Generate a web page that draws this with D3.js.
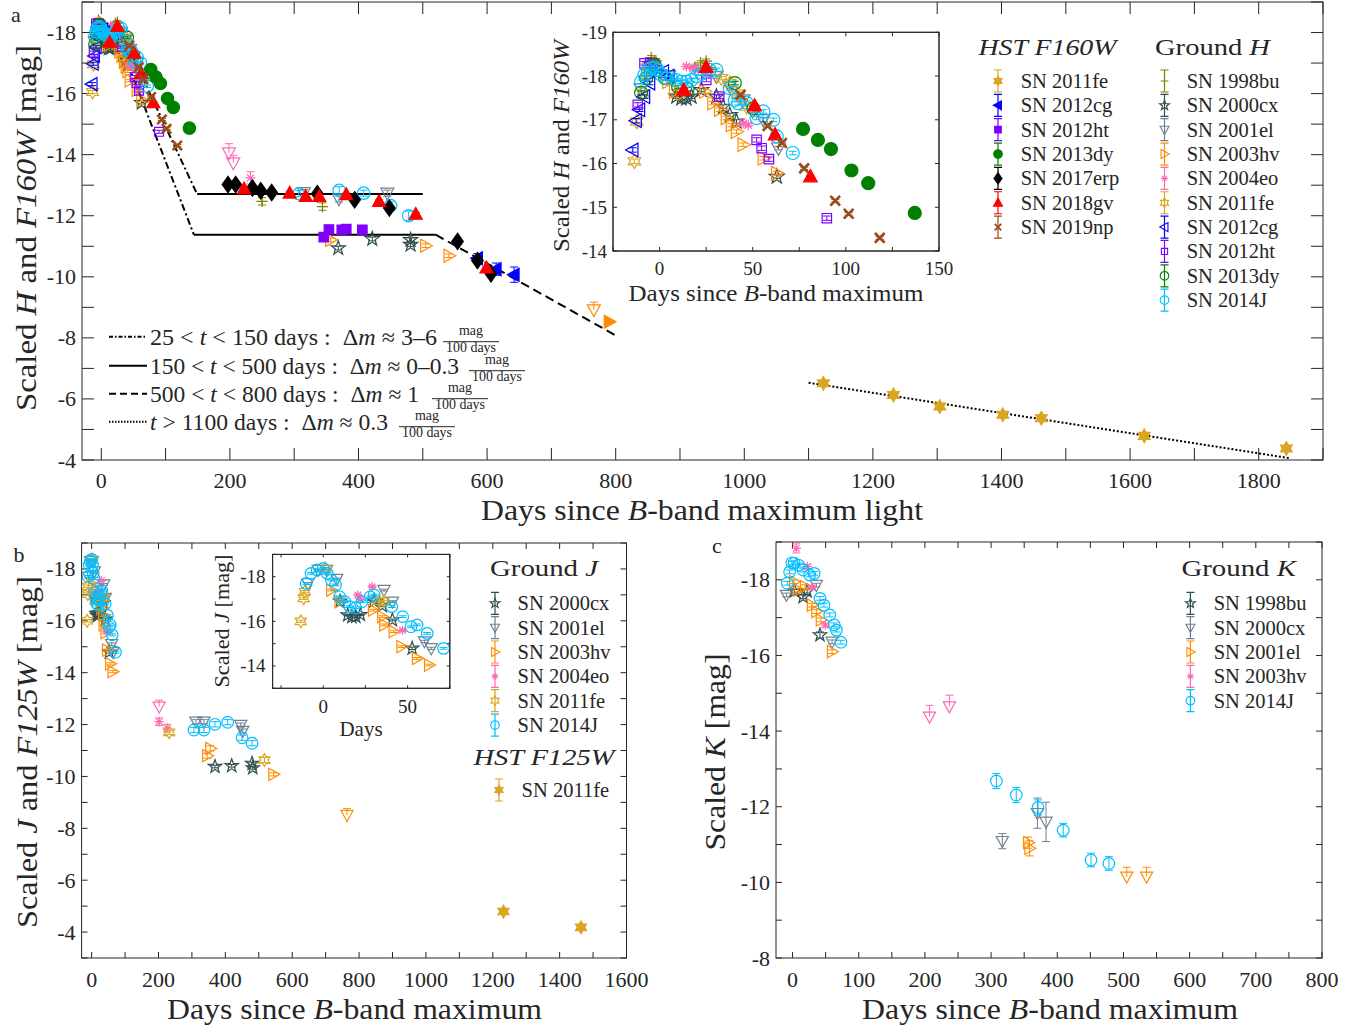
<!DOCTYPE html>
<html><head><meta charset="utf-8">
<script src="https://cdn.jsdelivr.net/npm/d3@7"></script>
<style>
body{margin:0;background:#fff}
svg{display:block}
text{font-family:"Liberation Serif","Times New Roman",serif;fill:#262626}
</style>
</head><body>
<svg id="chart" width="1364" height="1030"></svg>
<script>
// ===================== DATA (day, mag, error) =====================
// ---- Panel a: H band / HST F160W ----
const fe11H_hst = [[1123,-6.51,0.05],[1232,-6.13,0.05],[1304,-5.75,0.06],[1402,-5.48,0.06],[1462,-5.37,0.1],[1622,-4.79,0.08],[1843,-4.38,0.08]];
const cg12H_hst = [[585,-10.61,0.15],[614,-10.25,0.2],[642,-10.07,0.25]];
const ht12H_hst = [[346,-11.30,0.05],[354,-11.55,0.05],[374,-11.54,0.05],[381,-11.56,0.05],[406,-11.54,0.05]];
const dy13H_hst = [[77,-16.79,0.03],[85,-16.54,0.03],[92,-16.33,0.03],[103,-15.84,0.03],[112,-15.55,0.03],[137,-14.87,0.03]];
const erp17H_hst = [[197,-13.02,0.05],[209,-13.02,0.05],[235,-12.91,0.05],[248,-12.82,0.05],[265,-12.76,0.05],[336,-12.72,0.05],[394,-12.52,0.05],[448,-12.25,0.05],[554,-11.16,0.05],[585,-10.53,0.05],[606,-10.10,0.05]];
const gv18H_hst = [[13,-17.68,0.03],[25,-18.2,0.03],[51,-17.32,0.03],[62,-16.66,0.03],[81,-15.70,0.03],[222,-12.88,0.05],[293,-12.74,0.05],[318,-12.63,0.05],[339,-12.63,0.05],[381,-12.69,0.05],[432,-12.47,0.05],[489,-12.05,0.05],[599,-10.29,0.05]];
const np19H_hst = [[43.5,-17.57,0.03],[58,-16.86,0.03],[65.7,-16.47,0.03],[77.6,-15.89,0.03],[94.3,-15.15,0.03],[101.5,-14.85,0.03],[118.2,-14.30,0.03]];
const hv03H_hst = [[790,-8.53,0.05]];

const bu98H = [[-8,-17.95,0.05],[-6,-18.3,0.05],[-4.5,-18.42,0.05],[-2,-18.35,0.05],[19,-18.2,0.05],[22,-18.3,0.05],[25,-18.34,0.05],[28,-18.15,0.05],[250,-12.47,0.12],[344,-12.3,0.12]];
const cx00H = [[-5,-18.1,0.04],[9,-17.53,0.04],[11.7,-17.49,0.04],[14.4,-17.49,0.04],[17.1,-17.53,0.04],[22.4,-17.68,0.04],[30.5,-17.53,0.04],[34.1,-17.3,0.04],[37.7,-17.11,0.04],[41.3,-16.96,0.04],[62.9,-15.70,0.04],[368.5,-10.94,0.06],[421.4,-11.24,0.06],[481,-11.21,0.06],[481,-11.05,0.06]];
const el01H = [[-10,-17.7,0.04],[-3,-18.2,0.04],[5,-18.0,0.04],[30.5,-17.99,0.04],[37.7,-17.76,0.04],[44.9,-17.45,0.04],[50,-17.2,0.04],[55.7,-17.0,0.04],[63.8,-16.35,0.04],[315,-12.76,0.1],[369.6,-12.55,0.1],[444.8,-12.74,0.1]];
const hv03H = [[4.5,-17.87,0.04],[8.1,-17.65,0.04],[12,-17.6,0.04],[24.2,-17.65,0.04],[28.7,-17.38,0.04],[32.3,-17.23,0.04],[35.9,-17.04,0.04],[38.6,-16.88,0.04],[41.3,-16.73,0.04],[44.9,-16.43,0.04],[55.7,-16.12,0.04],[62.9,-15.78,0.04],[356.6,-11.21,0.06],[504.4,-11.02,0.06],[540.6,-10.69,0.06]];
const hv03H_lim = [[766,-8.92,0.25]];
const eo04H = [[14.4,-18.22,0.04],[18,-18.18,0.04],[20.7,-18.14,0.04],[25.1,-18.03,0.04],[44.9,-16.92,0.04],[47.6,-16.88,0.04],[232,-13.24,0.2]];
const eo04H_lim = [[198.5,-14.06,0.3],[205.3,-13.73,0.25]];
const fe11H = [[-13.5,-16.05,0.05],[-12.2,-16.96,0.05],[-9,-17.6,0.04],[-6,-18.2,0.04],[-3,-18.3,0.04],[33.2,-17.95,0.04],[37.7,-17.84,0.04],[42,-17.6,0.04],[46.7,-17.3,0.04]];
const cg12H = [[-14.4,-16.31,0.05],[-12.6,-16.98,0.05],[-10.8,-17.23,0.04],[-8.1,-17.53,0.04],[-5.4,-17.84,0.04],[-2,-18.1,0.04],[2,-18.1,0.04],[5,-18.0,0.04]];
const ht12H = [[-11.7,-17.34,0.05],[-8.1,-18.29,0.04],[-5,-18.3,0.04],[-3.6,-18.29,0.04],[25.1,-17.91,0.04],[32,-17.53,0.04],[52.1,-16.54,0.05],[54.8,-16.35,0.05],[58.7,-16.1,0.05],[89.8,-14.75,0.05]];
const dy13H = [[-9.9,-17.62,0.04],[-7.2,-17.95,0.04],[-2.7,-18.25,0.04],[3,-17.95,0.04],[10,-17.75,0.04],[15,-17.7,0.04],[40.4,-17.84,0.04],[50.3,-17.26,0.04]];
const J14H = [[-9.9,-17.87,0.04],[-8.1,-18.03,0.04],[-6.3,-18.14,0.04],[-4.5,-18.18,0.04],[-2.7,-18.18,0.04],[-0.9,-18.14,0.04],[0.9,-18.03,0.04],[3.6,-17.95,0.04],[6.3,-17.95,0.04],[9,-17.91,0.04],[11.7,-17.87,0.04],[14.4,-17.87,0.04],[17.1,-17.91,0.04],[19.8,-17.99,0.04],[22.4,-18.05,0.04],[26.9,-18.14,0.04],[30.5,-18.14,0.04],[37.7,-17.72,0.04],[40.4,-17.45,0.04],[42.2,-17.38,0.04],[46.7,-17.39,0.04],[52.1,-17.04,0.04],[55.7,-17.19,0.04],[61.1,-17.0,0.04],[62.9,-16.62,0.04],[71.5,-16.24,0.04],[307,-12.72,0.1],[370,-12.83,0.12],[408,-12.74,0.1],[450,-12.33,0.12],[478,-12.0,0.15]];

// model lines panel a
const lineEarlyBright = [[24,-18.32],[149,-12.71]];
const lineEarlyFaint = [[24.8,-17.88],[144,-11.38]];
const linePlateauBright = [[149,-12.71],[500,-12.71]];
const linePlateauFaint = [[144,-11.38],[520,-11.38]];
const lineLate = [[520,-11.38],[800,-8.08]];
const lineVeryLate = [[1100,-6.53],[1848,-4.06]];

// ---- Panel b: J band / HST F125W ----
const cx00J = [[10,-16.9,0.04],[14.5,-16.28,0.04],[17,-16.2,0.04],[19.3,-16.21,0.04],[22,-16.3,0.04],[30,-16.9,0.04],[35,-16.7,0.04],[41,-16.06,0.04],[52.7,-14.79,0.05],[369,-10.38,0.05],[419,-10.41,0.05],[480,-10.5,0.05],[482,-10.33,0.05]];
const el01J = [[-9,-17.7,0.04],[-3,-18.3,0.04],[2,-18.3,0.04],[8,-17.9,0.04],[36,-17.4,0.04],[41,-16.88,0.04],[60,-15.1,0.05],[64,-14.79,0.05],[312,-12.11,0.08],[336,-12.11,0.08],[446,-11.98,0.08],[452,-11.75,0.08]];
const hv03J = [[4.8,-17.4,0.04],[9.7,-16.88,0.04],[29.5,-16.5,0.04],[35,-16.21,0.04],[36.2,-15.84,0.04],[41.8,-15.54,0.04],[46.4,-14.87,0.04],[55.6,-14.34,0.04],[62.8,-14.04,0.04],[346,-10.8,0.1],[355,-11.08,0.1],[544,-10.08,0.06]];
const hv03J_lim = [[764,-8.51,0.25]];
const eo04J = [[20.5,-17.18,0.04],[22,-17.0,0.04],[29,-17.55,0.04],[47,-15.6,0.05],[202,-12.11,0.15],[226,-11.86,0.15]];
const eo04J_lim = [[202,-12.69,0.25]];
const fe11J = [[-13.3,-16.0,0.05],[-11.6,-17.03,0.05],[-10.9,-17.33,0.05],[1.2,-18.37,0.04],[33,-16.9,0.04],[36,-16.9,0.04],[232,-11.7,0.08],[517,-10.63,0.1]];
const J14J = [[-10.1,-17.7,0.04],[-7.2,-18.15,0.04],[-3.6,-18.3,0.04],[0,-18.37,0.04],[2.4,-18.15,0.04],[4.8,-17.85,0.04],[7.3,-17.63,0.04],[9.7,-17.1,0.04],[12.8,-16.88,0.04],[15.7,-16.66,0.04],[19.3,-16.61,0.04],[22.9,-16.88,0.04],[27.8,-17.1,0.04],[30.2,-17.18,0.04],[40.6,-16.66,0.04],[47.1,-16.21,0.04],[52,-15.76,0.04],[55.6,-15.84,0.04],[61.6,-15.46,0.04],[71.3,-14.79,0.04],[306,-11.79,0.1],[336,-11.79,0.1],[369,-12.01,0.1],[407,-12.09,0.1],[450,-11.49,0.1],[480,-11.28,0.1]];
const fe11J_hst = [[1232,-4.79,0.08],[1464,-4.18,0.1]];

// ---- Panel c: K band ----
const bu98K = [[3,-17.7,0.05],[15.9,-17.55,0.05],[22,-17.7,0.05],[41.4,-16.54,0.08]];
const cx00K = [[-9.2,-17.6,0.05],[36,-17.86,0.05],[59.7,-16.36,0.05],[317,-11.09,0.2],[370,-11.83,0.4],[383,-11.6,0.52]];
const el01K = [[2.3,-17.95,0.05],[9,-17.73,0.05],[19,-17.82,0.05],[29.3,-17.33,0.05],[36,-17.16,0.05],[42.8,-16.94,0.05],[59.7,-16.1,0.05],[356,-11.05,0.15],[358,-10.9,0.2]];
const el01K_lim = [[505,-10.15,0.25],[535,-10.15,0.25]];
const hv03K = [[5.7,-18.83,0.12],[22.5,-18.35,0.06],[29,-17.8,0.05],[49.6,-16.8,0.05]];
const hv03K_lim = [[207,-14.38,0.3],[237,-14.65,0.3]];
const J14K = [[-7.9,-17.91,0.05],[-4.4,-18.21,0.05],[-1,-18.45,0.05],[2.3,-18.44,0.05],[9,-18.39,0.05],[15.9,-18.26,0.05],[25.9,-18.13,0.05],[32.6,-18.17,0.05],[41.4,-17.51,0.05],[47.5,-17.33,0.05],[56.2,-17.07,0.05],[63,-16.81,0.05],[66.3,-16.67,0.05],[73.1,-16.35,0.05],[308,-12.68,0.2],[338,-12.31,0.2],[371,-11.98,0.2],[409,-11.38,0.18],[451,-10.59,0.18],[478,-10.5,0.18]];

// tick values
const ticksAx = d3.range(0,1901,100), labelsAx = d3.range(0,1801,200);
const ticksAy = d3.range(-19,-3,1), labelsAy = d3.range(-18,-3,2);
const ticksAix = d3.range(-25,151,25), labelsAix = [0,50,100,150];
const ticksAiy = d3.range(-19,-13,1), labelsAiy = d3.range(-19,-13,1);
const ticksBx = d3.range(0,1601,100), labelsBx = d3.range(0,1601,200);
const ticksBy = d3.range(-19,-2,1), labelsBy = d3.range(-18,-3,2);
const ticksBix = d3.range(-25,76,25), labelsBix = [0,50];
const ticksBiy = d3.range(-19,-12,1), labelsBiy = [-18,-16,-14];
const ticksCx = d3.range(0,801,50), labelsCx = d3.range(0,801,100);
const ticksCy = d3.range(-19,-7,1), labelsCy = d3.range(-18,-7,2);

// ===================== STYLE =====================
const COL = {fe:'#DAA520', cg:'#0000FF', ht:'#8000FF', dy:'#008000', erp:'#000000', gv:'#FF0000', np:'#9A4A1C',
  bu:'#808000', cx:'#2F4F4F', el:'#708090', hv:'#FF8C00', eo:'#FF69B4', J:'#00BFFF'};
const AX = '#262626';
const NB = '\u00a0';
const svg = d3.select('#chart');

function starPath(n,R,r){let p='';for(let i=0;i<2*n;i++){const a=-Math.PI/2+i*Math.PI/n,rr=i%2?r:R;p+=(i?'L':'M')+(rr*Math.cos(a)).toFixed(2)+','+(rr*Math.sin(a)).toFixed(2);}return p+'Z';}
function mpath(t,s){
  const a=s*0.85,b=s*1.1;
  switch(t){
    case 'circle': return `M${s},0A${s},${s} 0 1,1 ${-s},0A${s},${s} 0 1,1 ${s},0Z`;
    case 'square': return `M${-a},${-a}H${a}V${a}H${-a}Z`;
    case 'diamond': return `M0,${-b*1.2}L${b*0.85},0L0,${b*1.2}L${-b*0.85},0Z`;
    case 'up': return `M0,${-b}L${s*1.05},${s*0.8}L${-s*1.05},${s*0.8}Z`;
    case 'down': return `M0,${b}L${s*1.05},${-s*0.8}L${-s*1.05},${-s*0.8}Z`;
    case 'left': return `M${-b},0L${s*0.8},${-s*1.05}L${s*0.8},${s*1.05}Z`;
    case 'right': return `M${b},0L${-s*0.8},${-s*1.05}L${-s*0.8},${s*1.05}Z`;
    case 'hexagram': return starPath(6,b,b*0.577);
    case 'pentagram': return starPath(5,b*1.1,b*1.1*0.4);
    case 'x': {const c=s*0.75;return `M${-c},${-c}L${c},${c}M${-c},${c}L${c},${-c}`;}
    case 'asterisk': {const c=s*0.8,e=c*0.707;return `M${-c},0H${c}M0,${-c}V${c}M${-e},${-e}L${e},${e}M${-e},${e}L${e},${-e}`;}
    case 'plus': return `M${-s},0H${s}M0,${-s}V${s}`;
  }
}

function drawSeries(g,xs,ys,ser,size){
  const cap=4;
  ser.data.forEach(p=>{
    const X=xs(p[0]),Y=ys(p[1]),e=p[2]||0.04;
    let d;
    if(ser.limit){const yt=ys(p[1]-e);d=`M${X},${Y}V${yt}M${X-cap},${yt}H${X+cap}`;}
    else{const y1=ys(p[1]-e),y2=ys(p[1]+e);d=`M${X},${y1}V${y2}M${X-cap},${y1}H${X+cap}M${X-cap},${y2}H${X+cap}`;}
    g.append('path').attr('d',d).attr('stroke',ser.c).attr('stroke-width',1).attr('fill','none');
    g.append('path').attr('d',mpath(ser.m,(ser.s||1)*size)).attr('transform',`translate(${X},${Y})`)
      .attr('fill',ser.f?ser.c:'none').attr('stroke',ser.c).attr('stroke-width',ser.sw||1.2);
  });
}

function frame(g,xs,ys,xt,yt,len,bg){
  const [x0,x1]=xs.range();
  const top=Math.min(...ys.range()),bot=Math.max(...ys.range());
  if(bg) g.append('rect').attr('x',x0).attr('y',top).attr('width',x1-x0).attr('height',bot-top).attr('fill','#fff');
  let d='';
  xt.forEach(v=>{const X=xs(v);d+=`M${X},${bot}V${bot-len}M${X},${top}V${top+len}`;});
  yt.forEach(v=>{const Y=ys(v);d+=`M${x0},${Y}H${x0+len}M${x1},${Y}H${x1-len}`;});
  if(d) g.append('path').attr('d',d).attr('stroke',AX).attr('stroke-width',1).attr('fill','none');
  g.append('rect').attr('x',x0).attr('y',top).attr('width',x1-x0).attr('height',bot-top).attr('fill','none').attr('stroke',AX).attr('stroke-width',1);
}
function tickLabels(g,xs,ys,xl,yl,fs,xOff,yOff){
  const [x0]=xs.range();const bot=Math.max(...ys.range());
  xl.forEach(v=>g.append('text').attr('x',xs(v)).attr('y',bot+xOff).attr('text-anchor','middle').attr('dominant-baseline','central').attr('font-size',fs).text(v));
  yl.forEach(v=>g.append('text').attr('x',x0-yOff).attr('y',ys(v)).attr('text-anchor','end').attr('dominant-baseline','central').attr('font-size',fs).text(v));
}
function rich(g,x,y,parts,fs,o={}){
  const t=g.append('text').attr('x',x).attr('y',y).attr('font-size',fs).attr('text-anchor',o.anchor||'middle').attr('dominant-baseline','central');
  if(o.rot) t.attr('transform',`rotate(-90,${x},${y})`);
  if(o.len) t.attr('textLength',o.len).attr('lengthAdjust','spacingAndGlyphs');
  parts.forEach(p=>{const s=t.append('tspan').text(p[0]);if(p[1])s.attr('font-style','italic');});
  return t;
}
function clip(id,xs,ys){
  const [x0,x1]=xs.range();const top=Math.min(...ys.range()),bot=Math.max(...ys.range());
  svg.append('clipPath').attr('id',id).append('rect').attr('x',x0).attr('y',top).attr('width',x1-x0).attr('height',bot-top);
}
function legendEntry(g,x,tx,y,ser,label,fs){
  const c=ser.c;
  g.append('path').attr('d',`M${x},${y-11}V${y+11}M${x-4},${y-11}H${x+4}M${x-4},${y+11}H${x+4}`).attr('stroke',c).attr('stroke-width',1.2);
  g.append('path').attr('d',mpath(ser.m,4.3*(ser.s||1))).attr('transform',`translate(${x},${y})`).attr('fill',ser.f?c:'none').attr('stroke',c).attr('stroke-width',ser.sw?1.8:1.1);
  g.append('text').attr('x',tx).attr('y',y).attr('dominant-baseline','central').attr('font-size',fs).text(label);
}

// ===================== PANEL A =====================
const xA=d3.scaleLinear().domain([-30,1900]).range([82,1323]);
const yA=d3.scaleLinear().domain([-19,-4]).range([2,460]);
const xAi=d3.scaleLinear().domain([-25,150]).range([613,939]);
const yAi=d3.scaleLinear().domain([-19,-14]).range([32.3,251]);

const groundH=[
  {data:bu98H,c:COL.bu,m:'plus',f:false,s:0.9},
  {data:cx00H,c:COL.cx,m:'pentagram',f:false},
  {data:el01H,c:COL.el,m:'down',f:false},
  {data:hv03H,c:COL.hv,m:'right',f:false},
  {data:eo04H,c:COL.eo,m:'asterisk',f:false},
  {data:fe11H,c:COL.fe,m:'hexagram',f:false},
  {data:cg12H,c:COL.cg,m:'left',f:false},
  {data:ht12H,c:COL.ht,m:'square',f:false,s:0.85},
  {data:dy13H,c:COL.dy,m:'circle',f:false},
  {data:J14H,c:COL.J,m:'circle',f:false}
];
const limH=[
  {data:eo04H_lim,c:COL.eo,m:'down',f:false,limit:true},
  {data:hv03H_lim,c:COL.hv,m:'down',f:false,limit:true}
];
const hstH=[
  {data:fe11H_hst,c:COL.fe,m:'hexagram',f:true},
  {data:cg12H_hst,c:COL.cg,m:'left',f:true},
  {data:ht12H_hst,c:COL.ht,m:'square',f:true,s:0.9},
  {data:dy13H_hst,c:COL.dy,m:'circle',f:true},
  {data:erp17H_hst,c:COL.erp,m:'diamond',f:true},
  {data:gv18H_hst,c:COL.gv,m:'up',f:true},
  {data:np19H_hst,c:COL.np,m:'x',f:false,sw:2.6},
  {data:hv03H_hst,c:COL.hv,m:'right',f:true}
];

const gA=svg.append('g');
clip('clipA',xA,yA);
frame(gA,xA,yA,ticksAx,ticksAy,12,true);
const gAd=gA.append('g').attr('clip-path','url(#clipA)');
const lineGen=(xs,ys)=>d3.line().x(d=>xs(d[0])).y(d=>ys(d[1]));
const lA=lineGen(xA,yA);
[[lineEarlyBright,'7,3,2,3'],[lineEarlyFaint,'7,3,2,3'],[linePlateauBright,null],[linePlateauFaint,null],[lineLate,'9,5'],[lineVeryLate,'2,2']].forEach(([dd,da])=>{
  const p=gAd.append('path').attr('d',lA(dd)).attr('stroke','#000').attr('stroke-width',2).attr('fill','none');
  if(da)p.attr('stroke-dasharray',da);
});
[...groundH,...limH,...hstH].forEach(s=>drawSeries(gAd,xA,yA,s,6.2));
tickLabels(gA,xA,yA,labelsAx,labelsAy,22,20,6);
rich(gA,702,510,[['Days since ',0],['B',1],['-band maximum light',0]],29,{len:442});
rich(gA,25,228,[['Scaled ',0],['H',1],[' and ',0],['F160W',1],[' [mag]',0]],30,{rot:true,len:366});
gA.append('text').attr('x',16).attr('y',14).attr('text-anchor','middle').attr('dominant-baseline','central').attr('font-size',22).text('a');

// line legend
const lineLeg=[
  {y:336.7,da:'4,2,1.5,2',parts:[['25 < ',0],['t',1],[' < 150 days :'+NB+NB+'Δ',0],['m',1],[' ≈ 3–6',0]],len:287,fc:471},
  {y:365.7,da:null,parts:[['150 < ',0],['t',1],[' < 500 days :'+NB+NB+'Δ',0],['m',1],[' ≈ 0–0.3',0]],len:309,fc:497},
  {y:393.7,da:'7,4',parts:[['500 < ',0],['t',1],[' < 800 days :'+NB+NB+'Δ',0],['m',1],[' ≈ 1',0]],len:269,fc:460},
  {y:421.7,da:'1.5,1.5',parts:[['t',1],[' > 1100 days :'+NB+NB+'Δ',0],['m',1],[' ≈ 0.3',0]],len:238,fc:427}
];
lineLeg.forEach(r=>{
  const p=gA.append('path').attr('d',`M109,${r.y}H147`).attr('stroke','#000').attr('stroke-width',2);
  if(r.da)p.attr('stroke-dasharray',r.da);
  rich(gA,150,r.y,r.parts,23,{anchor:'start',len:r.len});
  gA.append('text').attr('x',r.fc).attr('y',r.y-6).attr('text-anchor','middle').attr('dominant-baseline','central').attr('font-size',14).text('mag');
  gA.append('path').attr('d',`M${r.fc-28},${r.y+5}H${r.fc+28}`).attr('stroke','#262626').attr('stroke-width',1);
  gA.append('text').attr('x',r.fc).attr('y',r.y+11).attr('text-anchor','middle').attr('dominant-baseline','central').attr('font-size',14).text('100'+NB+'days');
});

// inset a
const gAi=svg.append('g');
clip('clipAi',xAi,yAi);
frame(gAi,xAi,yAi,ticksAix,ticksAiy,4,true);
const gAid=gAi.append('g').attr('clip-path','url(#clipAi)');
[...groundH,...hstH].forEach(s=>drawSeries(gAid,xAi,yAi,s,6.5));
frame(gAi,xAi,yAi,[],[],0,false);
tickLabels(gAi,xAi,yAi,labelsAix,labelsAiy,19,17,6);
rich(gAi,776,293,[['Days since ',0],['B',1],['-band maximum',0]],23,{len:295});
rich(gAi,561,146,[['Scaled ',0],['H',1],[' and ',0],['F160W',1]],23,{rot:true,len:212});

// legend a
const legA=svg.append('g');
rich(legA,1047.5,46.7,[['HST F160W',1]],24,{len:138});
rich(legA,1212.5,46.7,[['Ground ',0],['H',1]],24,{len:115});
const legAL=[['SN 2011fe',hstH[0]],['SN 2012cg',hstH[1]],['SN 2012ht',hstH[2]],['SN 2013dy',hstH[3]],['SN 2017erp',hstH[4]],['SN 2018gv',hstH[5]],['SN 2019np',hstH[6]]];
legAL.forEach((e,i)=>legendEntry(legA,998,1020.7,81+i*24.35,e[1],e[0],20.5));
const legAR=[['SN 1998bu',groundH[0]],['SN 2000cx',groundH[1]],['SN 2001el',groundH[2]],['SN 2003hv',groundH[3]],['SN 2004eo',groundH[4]],['SN 2011fe',groundH[5]],['SN 2012cg',groundH[6]],['SN 2012ht',groundH[7]],['SN 2013dy',groundH[8]],['SN 2014J',groundH[9]]];
legAR.forEach((e,i)=>legendEntry(legA,1164.5,1186.7,81+i*24.35,e[1],e[0],20.5));

// ===================== PANEL B =====================
const xB=d3.scaleLinear().domain([-30,1600]).range([81.6,626.5]);
const yB=d3.scaleLinear().domain([-19,-3]).range([543,958]);
const xBi=d3.scaleLinear().domain([-30,75]).range([272.6,449.8]);
const yBi=d3.scaleLinear().domain([-19,-13]).range([554.4,688.3]);
const groundJ=[
  {data:cx00J,c:COL.cx,m:'pentagram',f:false},
  {data:el01J,c:COL.el,m:'down',f:false},
  {data:hv03J,c:COL.hv,m:'right',f:false},
  {data:eo04J,c:COL.eo,m:'asterisk',f:false},
  {data:fe11J,c:COL.fe,m:'hexagram',f:false},
  {data:J14J,c:COL.J,m:'circle',f:false}
];
const limJ=[
  {data:eo04J_lim,c:COL.eo,m:'down',f:false,limit:true},
  {data:hv03J_lim,c:COL.hv,m:'down',f:false,limit:true}
];
const hstJ=[{data:fe11J_hst,c:COL.fe,m:'hexagram',f:true}];
const gB=svg.append('g');
clip('clipB',xB,yB);
frame(gB,xB,yB,ticksBx,ticksBy,6,true);
const gBd=gB.append('g').attr('clip-path','url(#clipB)');
[...groundJ,...limJ,...hstJ].forEach(s=>drawSeries(gBd,xB,yB,s,5.8));
tickLabels(gB,xB,yB,labelsBx,labelsBy,22,21,6);
rich(gB,354.5,1009,[['Days since ',0],['B',1],['-band maximum',0]],29,{len:375});
rich(gB,26,752,[['Scaled ',0],['J',1],[' and ',0],['F125W',1],[' [mag]',0]],30,{rot:true,len:352});
gB.append('text').attr('x',19).attr('y',554).attr('text-anchor','middle').attr('dominant-baseline','central').attr('font-size',22).text('b');
// inset b
const gBi=svg.append('g');
clip('clipBi',xBi,yBi);
frame(gBi,xBi,yBi,ticksBix,ticksBiy,3,true);
const gBid=gBi.append('g').attr('clip-path','url(#clipBi)');
groundJ.forEach(s=>drawSeries(gBid,xBi,yBi,s,5.8));
frame(gBi,xBi,yBi,[],[],0,false);
tickLabels(gBi,xBi,yBi,labelsBix,labelsBiy,19,18,7);
rich(gBi,361,729,[['Days',0]],21);
rich(gBi,222,621,[['Scaled ',0],['J',1],[' [mag]',0]],20,{rot:true,len:133});
// legend b
const legB=svg.append('g');
rich(legB,544,568.3,[['Ground ',0],['J',1]],24,{len:108});
groundJ.forEach((s,i)=>legendEntry(legB,495,517.6,603.3+i*24.35,s,['SN 2000cx','SN 2001el','SN 2003hv','SN 2004eo','SN 2011fe','SN 2014J'][i],20.5));
rich(legB,544,756.7,[['HST F125W',1]],24,{len:141});
legendEntry(legB,499,521.6,790,hstJ[0],'SN 2011fe',20.5);

// ===================== PANEL C =====================
const xC=d3.scaleLinear().domain([-25,800]).range([776,1322]);
const yC=d3.scaleLinear().domain([-19,-8]).range([542,958]);
const groundK=[
  {data:bu98K,c:COL.cx,m:'pentagram',f:false},
  {data:cx00K,c:COL.el,m:'down',f:false},
  {data:el01K,c:COL.hv,m:'right',f:false},
  {data:hv03K,c:COL.eo,m:'asterisk',f:false},
  {data:J14K,c:COL.J,m:'circle',f:false}
];
const limK=[
  {data:hv03K_lim,c:COL.eo,m:'down',f:false,limit:true},
  {data:el01K_lim,c:COL.hv,m:'down',f:false,limit:true}
];
const gC=svg.append('g');
clip('clipC',xC,yC);
frame(gC,xC,yC,ticksCx,ticksCy,6,true);
const gCd=gC.append('g').attr('clip-path','url(#clipC)');
[...groundK,...limK].forEach(s=>drawSeries(gCd,xC,yC,s,5.8));
tickLabels(gC,xC,yC,labelsCx,labelsCy,22,21,6);
rich(gC,1050,1009,[['Days since ',0],['B',1],['-band maximum',0]],29,{len:376});
rich(gC,714,752,[['Scaled ',0],['K',1],[' [mag]',0]],30,{rot:true,len:197});
gC.append('text').attr('x',717).attr('y',545).attr('text-anchor','middle').attr('dominant-baseline','central').attr('font-size',22).text('c');
const legC=svg.append('g');
rich(legC,1238.7,568.3,[['Ground ',0],['K',1]],24,{len:114.5});
groundK.forEach((s,i)=>legendEntry(legC,1190.4,1213.7,603.3+i*24.35,s,['SN 1998bu','SN 2000cx','SN 2001el','SN 2003hv','SN 2014J'][i],20.5));
</script>
</body></html>
